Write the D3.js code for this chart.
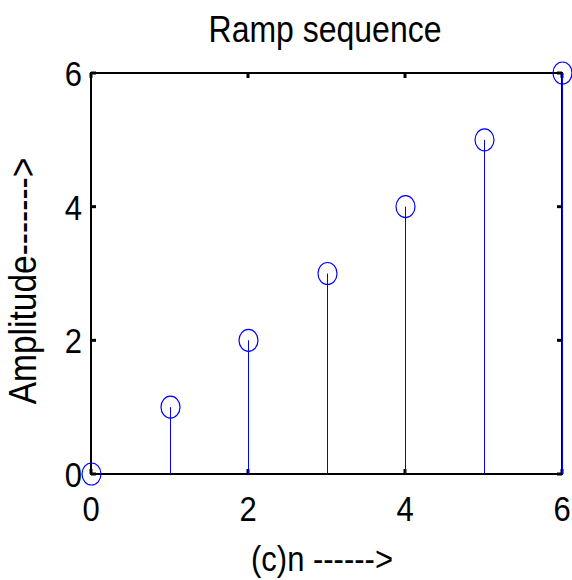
<!DOCTYPE html>
<html>
<head>
<meta charset="utf-8">
<script src="https://cdn.jsdelivr.net/npm/d3@7"></script>
<style>
  body { margin: 0; background: #fff; }
  text { font-family: Arial, 'Liberation Sans', sans-serif; fill: #000; }
</style>
</head>
<body>
<div id="chart"></div>
<script>
const n = [0, 1, 2, 3, 4, 5, 6];
const amplitude = [0, 1, 2, 3, 4, 5, 6];
const xTicks = [0, 2, 4, 6];
const yTicks = [0, 2, 4, 6];

const width = 572, height = 580;
const stretch = 1.15; // text in the picture is slightly taller than wide

const svg = d3.select('#chart').append('svg')
  .attr('width', width)
  .attr('height', height);

const x = d3.scaleLinear().domain([0, 6]).range([91, 562]);
const y = d3.scaleLinear().domain([0, 6]).range([474, 73]);

// Stretched text helper
const label = (tx, ty, str, size, anchor, rotate) => {
  svg.append('text')
    .attr('transform', `translate(${tx},${ty})${rotate ? ' rotate(-90)' : ''} scale(1,${stretch})`)
    .attr('text-anchor', anchor)
    .style('font-size', size + 'px')
    .text(str);
};

// Axes box
const [x0, x1] = x.range();
const [y0, y1] = y.range();
svg.append('rect')
  .attr('x', x0).attr('y', y1)
  .attr('width', x1 - x0).attr('height', y0 - y1)
  .attr('fill', 'none')
  .attr('stroke', '#000')
  .attr('stroke-width', 2);

// Tick marks inward on all four sides
const tickLen = 5;
xTicks.forEach((t) => {
  svg.append('line').attr('x1', x(t)).attr('x2', x(t)).attr('y1', y0).attr('y2', y0 - tickLen)
    .attr('stroke', '#000').attr('stroke-width', 3);
  svg.append('line').attr('x1', x(t)).attr('x2', x(t)).attr('y1', y1).attr('y2', y1 + tickLen)
    .attr('stroke', '#000').attr('stroke-width', 3);
});
yTicks.forEach((t) => {
  svg.append('line').attr('x1', x0).attr('x2', x0 + tickLen).attr('y1', y(t)).attr('y2', y(t))
    .attr('stroke', '#000').attr('stroke-width', 3);
  svg.append('line').attr('x1', x1).attr('x2', x1 - tickLen).attr('y1', y(t)).attr('y2', y(t))
    .attr('stroke', '#000').attr('stroke-width', 3);
});

// Stems
svg.selectAll('.stem')
  .data(n)
  .enter()
  .append('line')
  .attr('class', 'stem')
  .attr('x1', (d) => Math.round(x(d)) + 0.5)
  .attr('x2', (d) => Math.round(x(d)) + 0.5)
  .attr('y1', y(0))
  .attr('y2', (d, i) => y(amplitude[i]))
  .attr('stroke', '#0000ff')
  .attr('stroke-width', 1);

// Circle markers
svg.selectAll('.marker')
  .data(n)
  .enter()
  .append('ellipse')
  .attr('class', 'marker')
  .attr('cx', (d) => Math.round(x(d)) + 0.5)
  .attr('cy', (d, i) => y(amplitude[i]))
  .attr('rx', 9.5)
  .attr('ry', 11)
  .attr('fill', 'none')
  .attr('stroke', '#0000ff')
  .attr('stroke-width', 1.2);

// Tick labels
xTicks.forEach((t) => label(x(t), 521, t, 31, 'middle'));
yTicks.forEach((t) => label(82, y(t) + 13, t, 31, 'end'));

// Titles
label(325, 42, 'Ramp sequence', 32, 'middle');
label(322, 571, '(c)n ------>', 31, 'middle');
label(36, 281, 'Amplitude------->', 33.5, 'middle', true);
</script>
</body>
</html>
